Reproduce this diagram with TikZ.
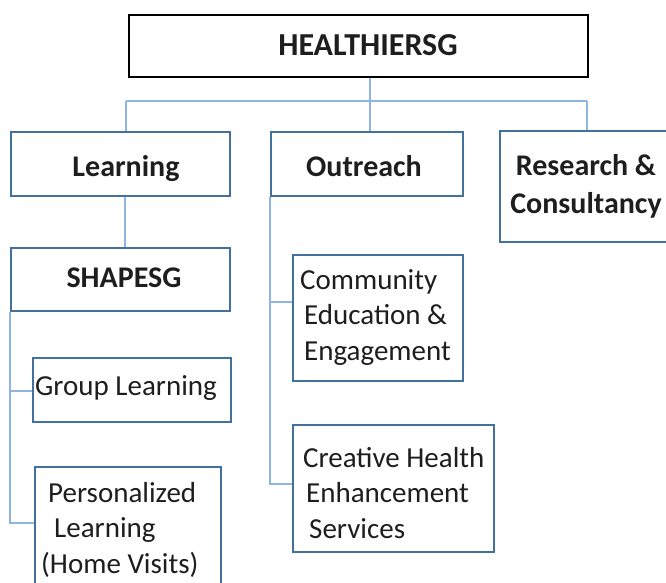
\documentclass[tikz,border=0pt]{standalone}
\usepackage{fontspec}
\setmainfont{Carlito}
\definecolor{boxblue}{HTML}{41719C}
\definecolor{linkblue}{HTML}{8DB4E2}
\definecolor{ink}{HTML}{1E1E1E}
\begin{document}
\begin{tikzpicture}[x=1pt,y=-1pt,
  box/.style={draw=boxblue, line width=2.4pt, anchor=north west, inner sep=0pt, fill=white},
  topbox/.style={draw=black, line width=2pt, anchor=north west, inner sep=0pt, fill=white},
  head/.style={inner sep=0pt, text=ink, font=\fontsize{30}{38}\selectfont\bfseries},
  body/.style={inner sep=0pt, text=ink, font=\fontsize{29}{35.5}\selectfont},
  link/.style={draw=linkblue, line width=1.5pt}]
\clip (0,0) rectangle (666,582);

% connector routing points
\coordinate (busL) at (126,101);
\coordinate (busM) at (370,101);
\coordinate (busR) at (587,101);
\coordinate (lx) at (125,0);
\coordinate (sA) at (10,391);
\coordinate (sB) at (10,523);
\coordinate (oA) at (270,302);
\coordinate (oB) at (270,484);

% boxes
\node[topbox, minimum width=459pt, minimum height=62pt] (top) at (128,14) {};
\node[box, minimum width=219pt, minimum height=64pt] (learn) at (10,131) {};
\node[box, minimum width=192pt, minimum height=64pt] (outr) at (270,131) {};
\node[box, minimum width=176pt, minimum height=111pt] (res) at (499,130) {};
\node[box, minimum width=219pt, minimum height=63pt] (shape) at (10,247) {};
\node[box, minimum width=170pt, minimum height=126pt] (comm) at (292,254) {};
\node[box, minimum width=198pt, minimum height=64pt] (grp) at (32,357) {};
\node[box, minimum width=201pt, minimum height=127pt] (crea) at (292,424) {};
\node[box, minimum width=186pt, minimum height=134pt] (pers) at (34,466) {};

% connectors
\draw[link] (top.south -| busM) -- (outr.north -| busM);
\draw[link] (busL) -- (busR);
\draw[link] (busL) -- (learn.north -| busL);
\draw[link] (busR) -- (res.north -| busR);
\draw[link] (learn.south -| lx) -- (shape.north -| lx);
\draw[link] (shape.south -| sA) -- (sB) -- (pers.west |- sB);
\draw[link] (sA) -- (grp.west |- sA);
\draw[link] (outr.south -| oA) -- (oB) -- (crea.west |- oB);
\draw[link] (oA) -- (comm.west |- oA);

% labels (multi-line labels are placed by the baseline of their last line)
\node[head, font=\fontsize{32}{38}\selectfont\bfseries, anchor=base] (topT) at (368,55) {HEALTHIERSG};
\node[head, anchor=base] (learnT) at (126,176) {Learning};
\node[head, anchor=base] (outT) at (364,176) {Outreach};
\node[head, align=center, anchor=base] (resT) at (586,213) {Research \&\\Consultancy};
\node[head, anchor=base] (shapeT) at (124,287) {SHAPESG};
\node[body, align=left, anchor=base west] (commT) at (300,360)
  {Community\\\hspace*{4pt}Education \&\\\hspace*{4pt}Engagement};
\node[body, anchor=base west] (grpT) at (35,395) {Group Learning};
\node[body, align=left, anchor=base west] (creaT) at (303,538)
  {Creative Health\\\hspace*{3pt}Enhancement\\\hspace*{6pt}Services};
\node[body, align=left, anchor=base west] (persT) at (48,573)
  {Personalized\\\hspace*{6pt}Learning\\\hspace*{-7pt}(Home Visits)};
\end{tikzpicture}
\end{document}
